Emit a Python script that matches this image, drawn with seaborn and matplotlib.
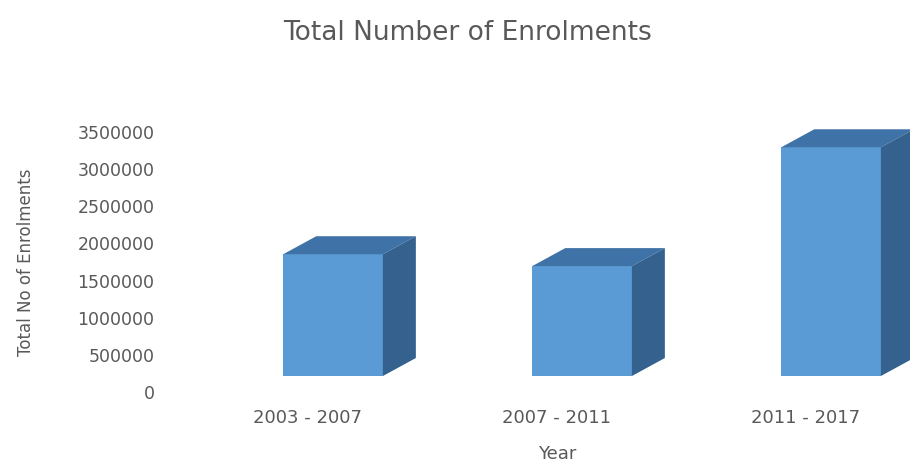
import seaborn as sns
import pandas as pd
import matplotlib.pyplot as plt
from matplotlib.patches import Polygon
from matplotlib.transforms import ScaledTranslation

# data
years = ['2003 - 2007', '2007 - 2011', '2011 - 2017']
enrolments = [1640000, 1480000, 3080000]
yticks = [0, 500000, 1000000, 1500000, 2000000, 2500000, 3000000, 3500000]

df = pd.DataFrame({'Year': years, 'Enrolments': enrolments})

sns.set_style('white')
plt.rcParams['font.family'] = ['DejaVu Sans']
grey = '#595959'

fig = plt.figure(figsize=(9.1, 4.64), dpi=100)
ax = fig.add_axes([160 / 910, 1 - 395 / 464, 750 / 910, 295 / 464])

sns.barplot(data=df, x='Year', y='Enrolments', color='#5b9bd5', saturation=1,
            width=0.4, edgecolor='none', ax=ax)

ax.set_xlim(-0.695, 2.317)
ax.set_ylim(-242000, 3730000)

# fake 3d depth: top and side faces behind each bar
depth_px = (33, 18)
p0 = ax.transData.transform((0, 0))
dx, dy = ax.transData.inverted().transform(p0 + depth_px) - ax.transData.inverted().transform(p0)
for p in list(ax.patches):
    x0, w, h = p.get_x(), p.get_width(), p.get_height()
    top = Polygon([(x0, h), (x0 + w, h), (x0 + w + dx, h + dy), (x0 + dx, h + dy)],
                  closed=True, facecolor='#3f72a6', edgecolor='none')
    side = Polygon([(x0 + w, 0), (x0 + w + dx, dy), (x0 + w + dx, h + dy), (x0 + w, h)],
                   closed=True, facecolor='#34618e', edgecolor='none')
    ax.add_patch(top)
    ax.add_patch(side)

for s in ax.spines.values():
    s.set_visible(False)

ax.set_yticks(yticks)
ax.set_yticklabels([str(v) for v in yticks])
ax.tick_params(axis='y', length=0, pad=4, labelsize=12.5, labelcolor=grey)
ax.tick_params(axis='x', length=0, pad=10, labelsize=13, labelcolor=grey)

# perspective offset of the axis labels (as in the 3d original)
for t in ax.yaxis.get_major_ticks():
    t.label1.set_transform(t.label1.get_transform() + ScaledTranslation(0, -0.15, fig.dpi_scale_trans))
for t in ax.xaxis.get_major_ticks():
    t.label1.set_transform(t.label1.get_transform() + ScaledTranslation(-0.26, 0, fig.dpi_scale_trans))

ax.set_xlabel('Year', fontsize=13, color=grey)
ax.xaxis.set_label_coords(0.529, -0.168)
ax.set_ylabel('Total No of Enrolments', fontsize=12, color=grey)
ax.yaxis.set_label_coords(-0.166, 0.45)

fig.text(468 / 910, 1 - 33 / 464, 'Total Number of Enrolments', ha='center', va='center',
         fontsize=19, color=grey)

fig.savefig('out.png', dpi=100)
